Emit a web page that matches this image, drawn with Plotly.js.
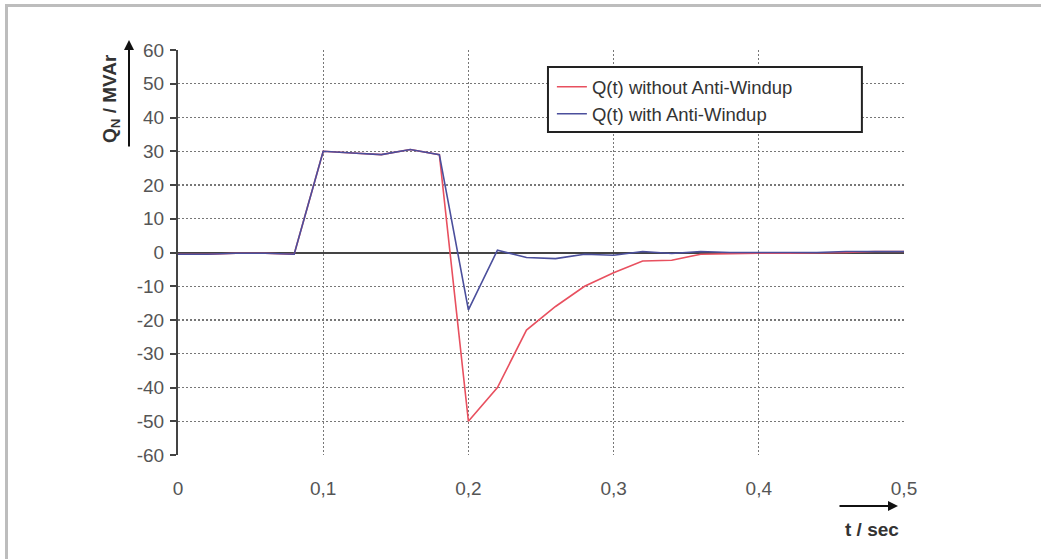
<!DOCTYPE html>
<html>
<head>
<meta charset="utf-8">
<script src="https://cdn.plot.ly/plotly-3.0.1.min.js"></script>
<style>
html,body{margin:0;padding:0;background:#fff;}
#frame{position:absolute;left:5px;top:4px;width:1100px;height:600px;border-top:3px solid #bdbdbd;border-left:3px solid #bdbdbd;}
#plot{position:absolute;left:0;top:0;width:1041px;height:559px;}
</style>
</head>
<body>
<div id="frame"></div>
<div id="plot"></div>
<script>
const t = [0,0.02,0.04,0.06,0.08,0.10,0.12,0.14,0.16,0.18,0.20,0.22,0.24,0.26,0.28,0.30,0.32,0.34,0.36,0.38,0.40,0.42,0.44,0.46,0.48,0.50];
const qWithout = [-0.5,-0.5,-0.2,-0.2,-0.5,30,29.5,29,30.5,29,-50,-40,-23,-16,-10,-6,-2.5,-2.3,-0.5,-0.3,-0.2,-0.2,-0.2,0,0.3,0.3];
const qWith    = [-0.5,-0.5,-0.2,-0.2,-0.5,30,29.5,29,30.5,29,-17,0.7,-1.5,-1.8,-0.5,-0.8,0.3,-0.3,0.3,0,0,0,0,0.3,0.3,0.3];
const names = ['Q(t) without Anti-Windup','Q(t) with Anti-Windup'];
const xTicks = [0,0.1,0.2,0.3,0.4,0.5];
const xTickText = ['0','0,1','0,2','0,3','0,4','0,5'];
const yTicks = [-60,-50,-40,-30,-20,-10,0,10,20,30,40,50,60];
const yTickText = yTicks.map(v => String(v));

const font = 'Liberation Sans, Arial, sans-serif';
const traces = [
  {x:t, y:qWithout, name:names[0], mode:'lines', line:{color:'#e8505f', width:1.6}},
  {x:t, y:qWith, name:names[1], mode:'lines', line:{color:'#4b4f9c', width:1.6}}
];
const layout = {
  width:1041, height:559,
  margin:{l:178, r:137, t:50, b:104},
  paper_bgcolor:'rgba(0,0,0,0)', plot_bgcolor:'#fff',
  font:{family:font, color:'#555', size:19},
  showlegend:true,
  legend:{x:0.515, y:0.955, xanchor:'left', yanchor:'top', bgcolor:'rgba(0,0,0,0)', borderwidth:0,
          font:{size:18.5, color:'#333'}, tracegroupgap:0},
  xaxis:{range:[0,0.5], tickvals:xTicks, ticktext:xTickText, showgrid:true, gridcolor:'#777', gridwidth:1.4, griddash:'2px,2px',
         zeroline:false, showline:false, ticks:'', ticklabelstandoff:20, fixedrange:true},
  yaxis:{range:[-60,60], tickvals:yTicks, ticktext:yTickText, showgrid:true, gridcolor:'#777', gridwidth:1.4, griddash:'2px,2px',
         zeroline:true, zerolinecolor:'#444', zerolinewidth:2,
         showline:true, linecolor:'#444', linewidth:2, ticks:'outside', ticklen:6, tickcolor:'#444', tickwidth:2,
         ticklabelstandoff:2, fixedrange:true},
  shapes:[
    {type:'rect', xref:'paper', yref:'paper', x0:0.5096, x1:0.942, y0:0.7975, y1:0.958,
     line:{color:'#222', width:2}, fillcolor:'#fff', layer:'above'}
  ],
  annotations:[
    {xref:'paper', yref:'paper', x:(898-178)/726, y:(455-506)/405, ax:-60, ay:0, axref:'pixel', ayref:'pixel',
     text:'', showarrow:true, arrowhead:2, arrowsize:1, arrowwidth:2, arrowcolor:'#111'},
    {xref:'paper', yref:'paper', x:(872-178)/726, y:(455-529)/405, text:'<b>t / sec</b>', showarrow:false,
     font:{family:font, size:19, color:'#333'}, xanchor:'center', yanchor:'middle'},
    {xref:'paper', yref:'paper', x:(129-178)/726, y:(455-40)/405, ax:0, ay:108, axref:'pixel', ayref:'pixel',
     text:'', showarrow:true, arrowhead:2, arrowsize:1, arrowwidth:2, arrowcolor:'#111'},
    {xref:'paper', yref:'paper', x:(111-178)/726, y:(455-99)/405, text:'<b>Q<sub>N</sub> / MVAr</b>', showarrow:false,
     textangle:-90, font:{family:font, size:19, color:'#333'}, xanchor:'center', yanchor:'middle'}
  ]
};
Plotly.newPlot('plot', traces, layout, {displayModeBar:false, staticPlot:true});
</script>
</body>
</html>
